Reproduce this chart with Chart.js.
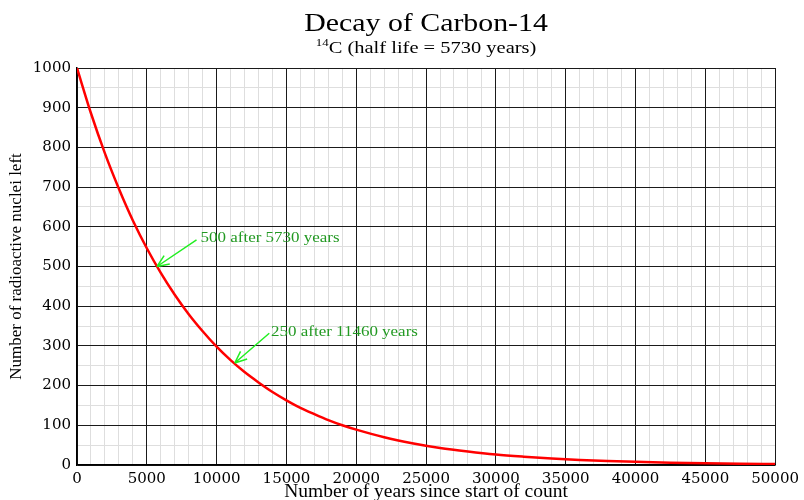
<!DOCTYPE html>
<html>
<head>
<meta charset="utf-8">
<script src="https://cdn.jsdelivr.net/npm/chart.js@4.4.0/dist/chart.umd.min.js"></script>
<style>
  body { margin: 0; background: #fff; }
  .chart { width: 804px; height: 500px; }
</style>
</head>
<body>
<div class="chart"><canvas id="myChart" width="804" height="500"></canvas></div>
<script>
// values
const years = [0, 1000, 2000, 3000, 4000, 5000, 6000, 7000, 8000, 9000, 10000,
  11000, 12000, 13000, 14000, 15000, 16000, 17000, 18000, 19000, 20000,
  22000, 24000, 26000, 28000, 30000, 32000, 34000, 36000, 38000, 40000,
  42500, 45000, 47500, 50000];
const nucleiLeft = [1000, 886, 785, 696, 616, 546, 484, 429, 380, 337, 298,
  264, 234, 208, 184, 163, 144, 128, 113, 100, 89,
  70, 55, 43, 34, 26.5, 21, 16.4, 12.9, 10.1, 7.9,
  5.9, 4.3, 3.2, 2.4];
const xTicks = [0, 5000, 10000, 15000, 20000, 25000, 30000, 35000, 40000, 45000, 50000];
const yTicks = [0, 100, 200, 300, 400, 500, 600, 700, 800, 900, 1000];

const noteTexts = ["500 after 5730 years", "250 after 11460 years"];
const noteTextAt = [[8850, 572], [13900, 335]];
const arrowFrom = [[8560, 567], [13770, 332]];
const arrowTo = [[5730, 500], [11300, 257]];

const serif = "'Liberation Serif', 'Times New Roman', serif";
const tickFont = { family: "'DejaVu Serif', serif", size: 15 };
const stretch = 1.17; // the lettering in the original is a bit wide

const minorGrid = (step) => (ctx) =>
  ctx.tick && ctx.tick.value % step === 0 ? "rgba(0,0,0,0)" : "#dedede";

// draw text a little wider than the font, like the original
const wideText = (ctx, text, x, y, align) => {
  const w = ctx.measureText(text).width * stretch;
  let left = x;
  if (align === "center") left = x - w / 2;
  ctx.save();
  ctx.translate(left, y);
  ctx.scale(stretch, 1);
  ctx.textAlign = "left";
  ctx.fillText(text, 0, 0);
  ctx.restore();
  return w;
};

// titles + arrows drawn on top of the chart
const extras = {
  id: "extras",
  afterDraw(chart) {
    const { ctx, chartArea, scales } = chart;
    const cx = (chartArea.left + chartArea.right) / 2;
    ctx.save();
    ctx.fillStyle = "#000";
    ctx.textBaseline = "alphabetic";
    ctx.font = "25.5px " + serif;
    wideText(ctx, "Decay of Carbon-14", cx, 31, "center");

    // subtitle with superscript 14
    const sup = "14", rest = "C (half life = 5730 years)";
    ctx.font = "11px " + serif;
    const wSup = ctx.measureText(sup).width * stretch;
    ctx.font = "17.5px " + serif;
    const wRest = ctx.measureText(rest).width * stretch;
    const x0 = cx - (wSup + wRest) / 2;
    ctx.font = "11px " + serif;
    wideText(ctx, sup, x0, 46, "left");
    ctx.font = "17.5px " + serif;
    wideText(ctx, rest, x0 + wSup, 53, "left");

    // annotations
    const px = (p) => [scales.x.getPixelForValue(p[0]), scales.y.getPixelForValue(p[1])];
    noteTexts.forEach((t, i) => {
      const [tx, ty] = px(noteTextAt[i]);
      ctx.fillStyle = "#229922";
      ctx.font = "14.5px " + serif;
      ctx.textBaseline = "middle";
      wideText(ctx, t, tx, ty, "left");

      const [ax, ay] = px(arrowFrom[i]);
      const [bx, by] = px(arrowTo[i]);
      ctx.strokeStyle = "#22ee22";
      ctx.lineWidth = 1.5;
      ctx.beginPath();
      ctx.moveTo(ax, ay);
      ctx.lineTo(bx, by);
      const ang = Math.atan2(by - ay, bx - ax);
      const len = 13;
      [0.4, -0.4].forEach((d) => {
        ctx.moveTo(bx, by);
        ctx.lineTo(bx - len * Math.cos(ang + d), by - len * Math.sin(ang + d));
      });
      ctx.stroke();
    });
    ctx.restore();
  },
};

const ctx = document.getElementById("myChart").getContext("2d");
const myChart = new Chart(ctx, {
  type: "line",
  data: {
    datasets: [
      {
        data: years.map((y, i) => ({ x: y, y: nucleiLeft[i] })),
        borderColor: "#ff0000",
        borderWidth: 2.5,
        pointRadius: 0,
        cubicInterpolationMode: "monotone",
        fill: false,
      },
    ],
  },
  options: {
    responsive: false,
    animation: false,
    layout: { padding: { top: 68, right: 26, left: 0, bottom: 0 } },
    plugins: { legend: { display: false }, tooltip: { enabled: false } },
    scales: {
      xm: {
        type: "linear", min: 0, max: 50000, position: "bottom", z: -1,
        ticks: { display: false, stepSize: 1000 },
        grid: { color: minorGrid(5000), drawTicks: false },
        border: { display: false },
        afterFit: (s) => { s.height = 0; },
      },
      ym: {
        type: "linear", min: 0, max: 1000, position: "left", z: -1,
        ticks: { display: false, stepSize: 50 },
        grid: { color: minorGrid(100), drawTicks: false },
        border: { display: false },
        afterFit: (s) => { s.width = 0; },
      },
      x: {
        type: "linear", min: 0, max: 50000, position: "bottom",
        afterBuildTicks: (s) => { s.ticks = xTicks.map((v) => ({ value: v })); },
        ticks: {
          color: "#000", font: tickFont, padding: 5, maxRotation: 0, autoSkip: false,
          callback: (v) => String(v),
        },
        grid: { color: "#1a1a1a", drawTicks: false, lineWidth: 1 },
        border: { color: "#000", width: 1.5 },
        title: {
          display: true, text: "Number of years since start of count", color: "#000",
          font: { family: serif, size: 19.5, lineHeight: 0.8 }, padding: { top: 0, bottom: 0 },
        },
        afterFit: (s) => { s.height = 35; },
      },
      y: {
        type: "linear", min: 0, max: 1000, position: "left",
        afterBuildTicks: (s) => { s.ticks = yTicks.map((v) => ({ value: v })); },
        ticks: {
          color: "#000", font: tickFont, padding: 6, autoSkip: false,
          callback: (v) => String(v),
        },
        grid: { color: "#1a1a1a", drawTicks: false, lineWidth: 1 },
        border: { color: "#000", width: 1.5 },
        title: {
          display: true, text: "Number of radioactive nuclei left", color: "#000",
          font: { family: serif, size: 17, lineHeight: 1 }, padding: { top: 8, bottom: 0 },
        },
        afterFit: (s) => { s.width = 77; },
      },
    },
  },
  plugins: [extras],
});
</script>
</body>
</html>
